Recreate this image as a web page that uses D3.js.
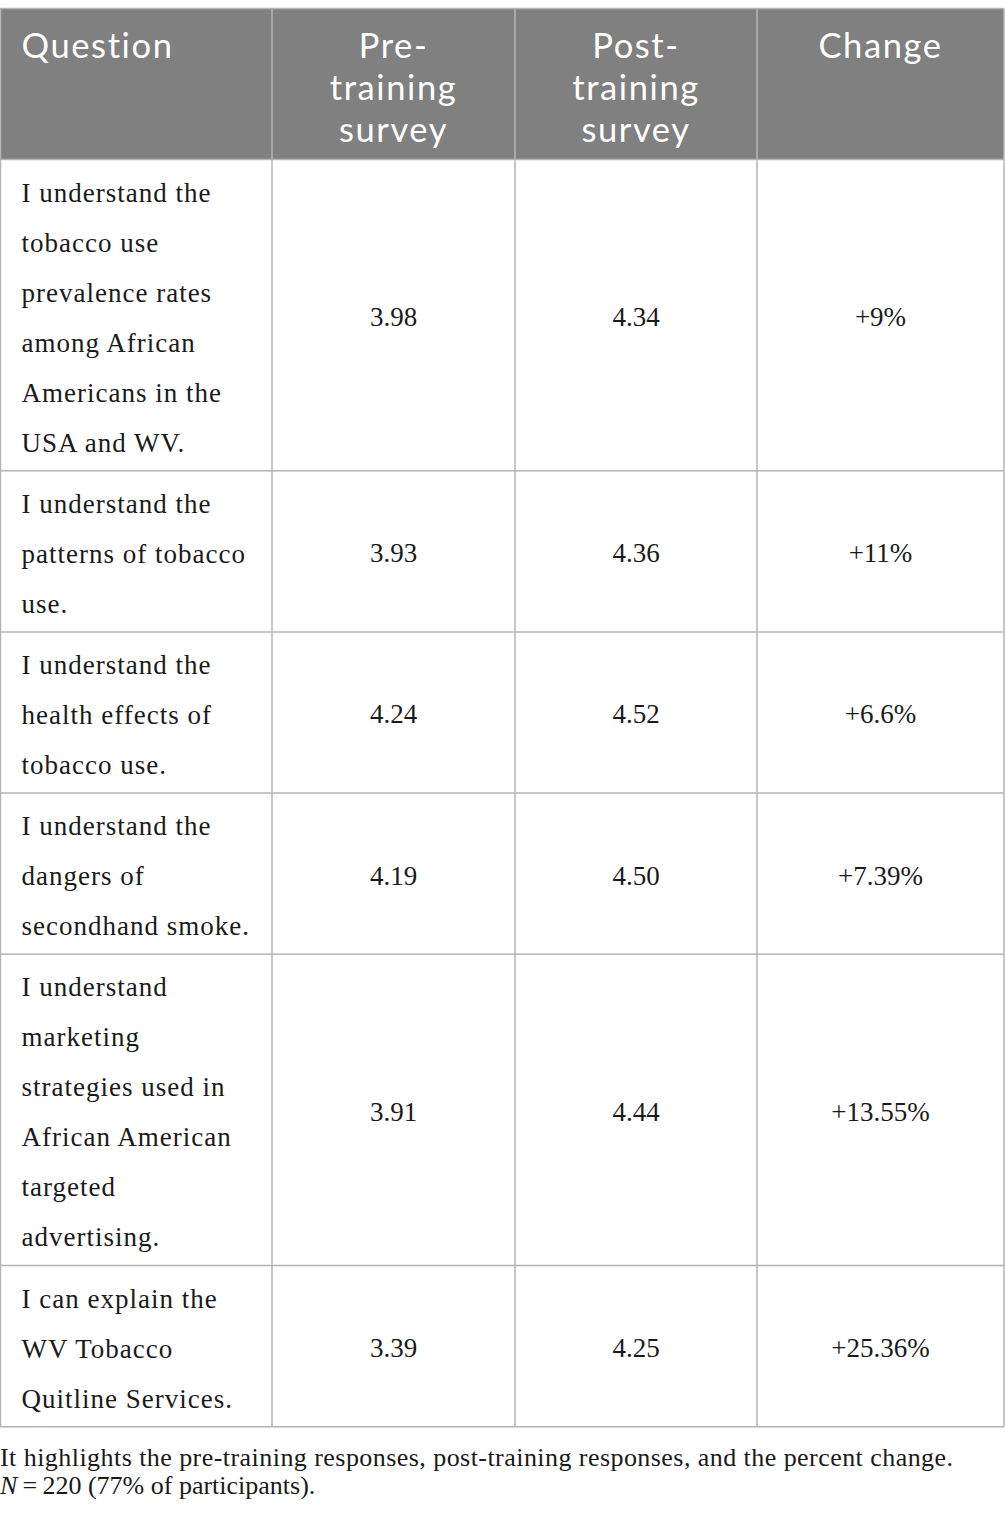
<!DOCTYPE html>
<html>
<head>
<meta charset="utf-8">
<script src="https://cdn.jsdelivr.net/npm/d3@7"></script>
<style>
  body { margin: 0; background: #fff; }
</style>
</head>
<body>
<div id="chart"></div>
<script>
// table content
var headers = [["Question"], ["Pre-", "training", "survey"], ["Post-", "training", "survey"], ["Change"]];
var questions = [
    ["I understand the", "tobacco use", "prevalence rates", "among African", "Americans in the", "USA and WV."],
    ["I understand the", "patterns of tobacco", "use."],
    ["I understand the", "health effects of", "tobacco use."],
    ["I understand the", "dangers of", "secondhand smoke."],
    ["I understand", "marketing", "strategies used in", "African American", "targeted", "advertising."],
    ["I can explain the", "WV Tobacco", "Quitline Services."]
];
var preTraining = [3.98, 3.93, 4.24, 4.19, 3.91, 3.39];
var postTraining = [4.34, 4.36, 4.52, 4.50, 4.44, 4.25];
var changes = ["+9%", "+11%", "+6.6%", "+7.39%", "+13.55%", "+25.36%"];
var captionLine1 = "It highlights the pre-training responses, post-training responses, and the percent change.";
var captionN = "N";
var captionRest = "\u2009=\u2009220 (77% of participants).";

var config = {
    w: 1005,
    h: 1522,
    top: 8.5,
    headerH: 151,
    lineH: 50,
    rowPad: 11.2,
    colEdges: [0.5, 272, 515, 757, 1004],
    border: '#b4b4b4',
    headerFill: '#808080',
    serif: '"Liberation Serif", "Times New Roman", serif',
    sans: 'Lato, "Open Sans", sans-serif'
};

var fmt = d3.format('.2f');

var rows = questions.map(function (q, i) {
    return { lines: q, pre: fmt(preTraining[i]), post: fmt(postTraining[i]), change: changes[i] };
});

// row positions from the number of wrapped lines
var y0 = config.top + config.headerH;
rows.forEach(function (r) {
    r.y = y0;
    r.h = r.lines.length * config.lineH + config.rowPad;
    y0 += r.h;
});
var tableBottom = y0;

var svg = d3.select('#chart').append('svg')
    .attr('width', config.w)
    .attr('height', config.h);

var colX = function (i) { return config.colEdges[i]; };
var colMid = function (i) { return (config.colEdges[i] + config.colEdges[i + 1]) / 2; };

// header
svg.append('rect')
    .attr('x', colX(0))
    .attr('y', config.top)
    .attr('width', colX(4) - colX(0))
    .attr('height', config.headerH)
    .style('fill', config.headerFill);

var head = svg.selectAll('.head')
    .data(headers)
    .join('text')
    .attr('class', 'head')
    .style('font-family', config.sans)
    .style('font-size', '34.5px')
    .style('letter-spacing', '1.6px')
    .style('fill', '#fff')
    .style('text-anchor', function (d, i) { return i === 0 ? 'start' : 'middle'; });

head.selectAll('tspan')
    .data(function (d, i) { return d.map(function (t) { return { t: t, col: i }; }); })
    .join('tspan')
    .attr('x', function (d) { return d.col === 0 ? colX(0) + 21 : colMid(d.col); })
    .attr('y', function (d, j) { return config.top + 49 + j * 42; })
    .text(function (d) { return d.t; });

// body rows
var row = svg.selectAll('.row')
    .data(rows)
    .join('g')
    .attr('class', 'row')
    .attr('transform', function (d) { return 'translate(0,' + d.y + ')'; });

row.append('text')
    .style('font-family', config.serif)
    .style('font-size', '27px')
    .style('letter-spacing', '1px')
    .style('fill', '#1a1a1a')
    .selectAll('tspan')
    .data(function (d) { return d.lines; })
    .join('tspan')
    .attr('x', colX(0) + 21)
    .attr('y', function (d, j) { return 42 + j * config.lineH; })
    .text(function (d) { return d; });

row.selectAll('.val')
    .data(function (d) { return [d.pre, d.post, d.change]; })
    .join('text')
    .attr('class', 'val')
    .attr('x', function (d, i) { return colMid(i + 1); })
    .attr('y', function () { return d3.select(this.parentNode).datum().h / 2 + 11; })
    .style('font-family', config.serif)
    .style('font-size', '27px')
    .style('fill', '#1a1a1a')
    .style('text-anchor', 'middle')
    .text(function (d) { return d; });

// grid lines
var hLines = [config.top, config.top + config.headerH].concat(rows.map(function (r) { return r.y + r.h; }));
svg.selectAll('.hline')
    .data(hLines)
    .join('line')
    .attr('class', 'hline')
    .attr('x1', colX(0))
    .attr('x2', colX(4))
    .attr('y1', function (d) { return d; })
    .attr('y2', function (d) { return d; })
    .style('stroke', config.border)
    .style('stroke-width', '1.5px');

svg.selectAll('.vline')
    .data(config.colEdges)
    .join('line')
    .attr('class', 'vline')
    .attr('x1', function (d) { return d; })
    .attr('x2', function (d) { return d; })
    .attr('y1', config.top)
    .attr('y2', tableBottom)
    .style('stroke', config.border)
    .style('stroke-width', '1.5px');

// caption
var cap = svg.append('g')
    .style('font-family', config.serif)
    .style('font-size', '26px')
    .style('fill', '#1a1a1a');

cap.append('text')
    .attr('x', 0)
    .attr('y', tableBottom + 39)
    .attr('textLength', 953)
    .attr('lengthAdjust', 'spacing')
    .text(captionLine1);

var cap2 = cap.append('text')
    .attr('x', 0)
    .attr('y', tableBottom + 67);
cap2.append('tspan').style('font-style', 'italic').text(captionN);
cap2.append('tspan').text(captionRest);
</script>
</body>
</html>
